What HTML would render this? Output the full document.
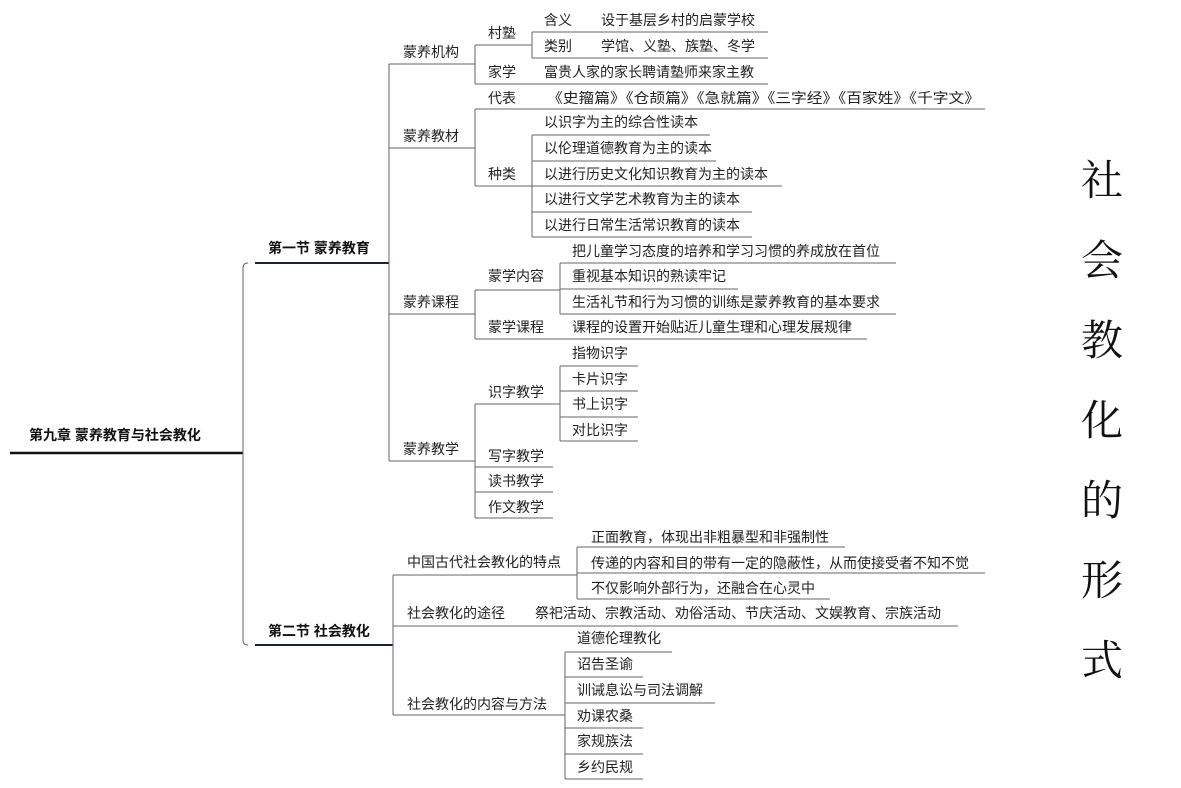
<!DOCTYPE html>
<html><head><meta charset="utf-8"><style>
html,body{margin:0;padding:0;background:#fff;}
svg{display:block;}
text{font-family:"Liberation Sans","Noto Sans CJK SC",sans-serif;font-size:14px;fill:#222;}
.b{font-weight:bold;fill:#111;}
.big{font-family:"Liberation Serif","Noto Serif CJK SC",serif;font-size:42px;fill:#111;}
line,path{stroke:#666;stroke-width:1;fill:none;}
</style></head><body>
<svg width="1181" height="788" viewBox="0 0 1181 788" xmlns="http://www.w3.org/2000/svg">
<text x="29" y="440" class="b">第九章 蒙养教育与社会教化</text>
<line x1="10" y1="453" x2="243" y2="453" style="stroke:#111;stroke-width:2.5"/>
<path d="M243 453 V268 Q243 263 248 263 M243 453 V640 Q243 645 248 645"/>
<text x="268" y="253" class="b">第一节 蒙养教育</text>
<line x1="255" y1="263" x2="389" y2="263" style="stroke:#1a2238;stroke-width:2"/>
<text x="268" y="636" class="b">第二节  社会教化</text>
<line x1="255" y1="645" x2="393" y2="645" style="stroke:#1a2238;stroke-width:2"/>
<path d="M389 64 V461"/>
<line x1="389" y1="64" x2="475" y2="64"/>
<line x1="389" y1="148" x2="475" y2="148"/>
<line x1="389" y1="314" x2="475" y2="314"/>
<line x1="389" y1="461" x2="475" y2="461"/>
<text x="403" y="57">蒙养机构</text>
<text x="403" y="141">蒙养教材</text>
<text x="403" y="307">蒙养课程</text>
<text x="403" y="454">蒙养教学</text>
<path d="M475 45 V84"/>
<line x1="475" y1="45" x2="532" y2="45"/>
<text x="488" y="38">村塾</text>
<path d="M532 32 V58"/>
<line x1="532" y1="32" x2="768" y2="32"/>
<line x1="532" y1="58" x2="768" y2="58"/>
<text x="544" y="25">含义</text><text x="601" y="25">设于基层乡村的启蒙学校</text>
<text x="544" y="51">类别</text><text x="601" y="51">学馆、义塾、族塾、冬学</text>
<line x1="475" y1="84" x2="768" y2="84"/>
<text x="488" y="77">家学</text><text x="544" y="77">富贵人家的家长聘请塾师来家主教</text>
<path d="M475 109 V186"/>
<line x1="475" y1="109" x2="985" y2="109"/>
<text x="488" y="103">代表</text><text x="547" y="103" textLength="433" lengthAdjust="spacingAndGlyphs">《史籀篇》《仓颉篇》《急就篇》《三字经》《百家姓》《千字文》</text>
<line x1="475" y1="186" x2="532" y2="186"/>
<text x="488" y="179">种类</text>
<path d="M532 135 V237"/>
<line x1="532" y1="135" x2="710" y2="135"/>
<line x1="532" y1="161" x2="716" y2="161"/>
<line x1="532" y1="186" x2="782" y2="186"/>
<line x1="532" y1="212" x2="752" y2="212"/>
<line x1="532" y1="237" x2="752" y2="237"/>
<text x="544" y="127">以识字为主的综合性读本</text>
<text x="544" y="153">以伦理道德教育为主的读本</text>
<text x="544" y="179">以进行历史文化知识教育为主的读本</text>
<text x="544" y="204">以进行文学艺术教育为主的读本</text>
<text x="544" y="230">以进行日常生活常识教育的读本</text>
<path d="M475 290 V339"/>
<line x1="475" y1="290" x2="560" y2="290"/>
<text x="488" y="281">蒙学内容</text>
<path d="M560 263 V314"/>
<line x1="560" y1="263" x2="896" y2="263"/>
<line x1="560" y1="289" x2="738" y2="289"/>
<line x1="560" y1="314" x2="896" y2="314"/>
<text x="572" y="256">把儿童学习态度的培养和学习习惯的养成放在首位</text>
<text x="572" y="281">重视基本知识的熟读牢记</text>
<text x="572" y="307">生活礼节和行为习惯的训练是蒙养教育的基本要求</text>
<line x1="475" y1="339" x2="867" y2="339"/>
<text x="488" y="332">蒙学课程</text><text x="572" y="332">课程的设置开始贴近儿童生理和心理发展规律</text>
<path d="M475 404 V518"/>
<line x1="475" y1="404" x2="560" y2="404"/>
<text x="488" y="397">识字教学</text>
<path d="M560 366 V441"/>
<line x1="560" y1="366" x2="638" y2="366"/>
<line x1="560" y1="391" x2="638" y2="391"/>
<line x1="560" y1="417" x2="638" y2="417"/>
<line x1="560" y1="441" x2="638" y2="441"/>
<text x="572" y="358">指物识字</text>
<text x="572" y="384">卡片识字</text>
<text x="572" y="409">书上识字</text>
<text x="572" y="435">对比识字</text>
<line x1="475" y1="467" x2="553" y2="467"/>
<line x1="475" y1="492" x2="553" y2="492"/>
<line x1="475" y1="518" x2="553" y2="518"/>
<text x="488" y="461">写字教学</text>
<text x="488" y="486">读书教学</text>
<text x="488" y="512">作文教学</text>
<path d="M393 575 V715"/>
<line x1="393" y1="575" x2="577" y2="575"/>
<text x="407" y="567">中国古代社会教化的特点</text>
<path d="M577 547 V599"/>
<line x1="577" y1="547" x2="845" y2="547"/>
<line x1="577" y1="573" x2="985" y2="573"/>
<line x1="577" y1="599" x2="830" y2="599"/>
<text x="591" y="542">正面教育，体现出非粗暴型和非强制性</text>
<text x="591" y="568">传递的内容和目的带有一定的隐蔽性，从而使接受者不知不觉</text>
<text x="591" y="593">不仅影响外部行为，还融合在心灵中</text>
<line x1="393" y1="626" x2="958" y2="626"/>
<text x="407" y="618">社会教化的途径</text><text x="535" y="618">祭祀活动、宗教活动、劝俗活动、节庆活动、文娱教育、宗族活动</text>
<line x1="393" y1="715" x2="565" y2="715"/>
<text x="407" y="709">社会教化的内容与方法</text>
<path d="M565 652 V779"/>
<line x1="565" y1="652" x2="672" y2="652"/>
<line x1="565" y1="677" x2="643" y2="677"/>
<line x1="565" y1="703" x2="715" y2="703"/>
<line x1="565" y1="728" x2="643" y2="728"/>
<line x1="565" y1="754" x2="643" y2="754"/>
<line x1="565" y1="779" x2="643" y2="779"/>
<text x="577" y="643">道德伦理教化</text>
<text x="577" y="669">诏告圣谕</text>
<text x="577" y="695">训诫息讼与司法调解</text>
<text x="577" y="721">劝课农桑</text>
<text x="577" y="746">家规族法</text>
<text x="577" y="772">乡约民规</text>
<text x="1081" y="195" class="big">社</text>
<text x="1081" y="275" class="big">会</text>
<text x="1081" y="355" class="big">教</text>
<text x="1081" y="435" class="big">化</text>
<text x="1081" y="515" class="big">的</text>
<text x="1081" y="595" class="big">形</text>
<text x="1081" y="675" class="big">式</text>
</svg>
</body></html>
